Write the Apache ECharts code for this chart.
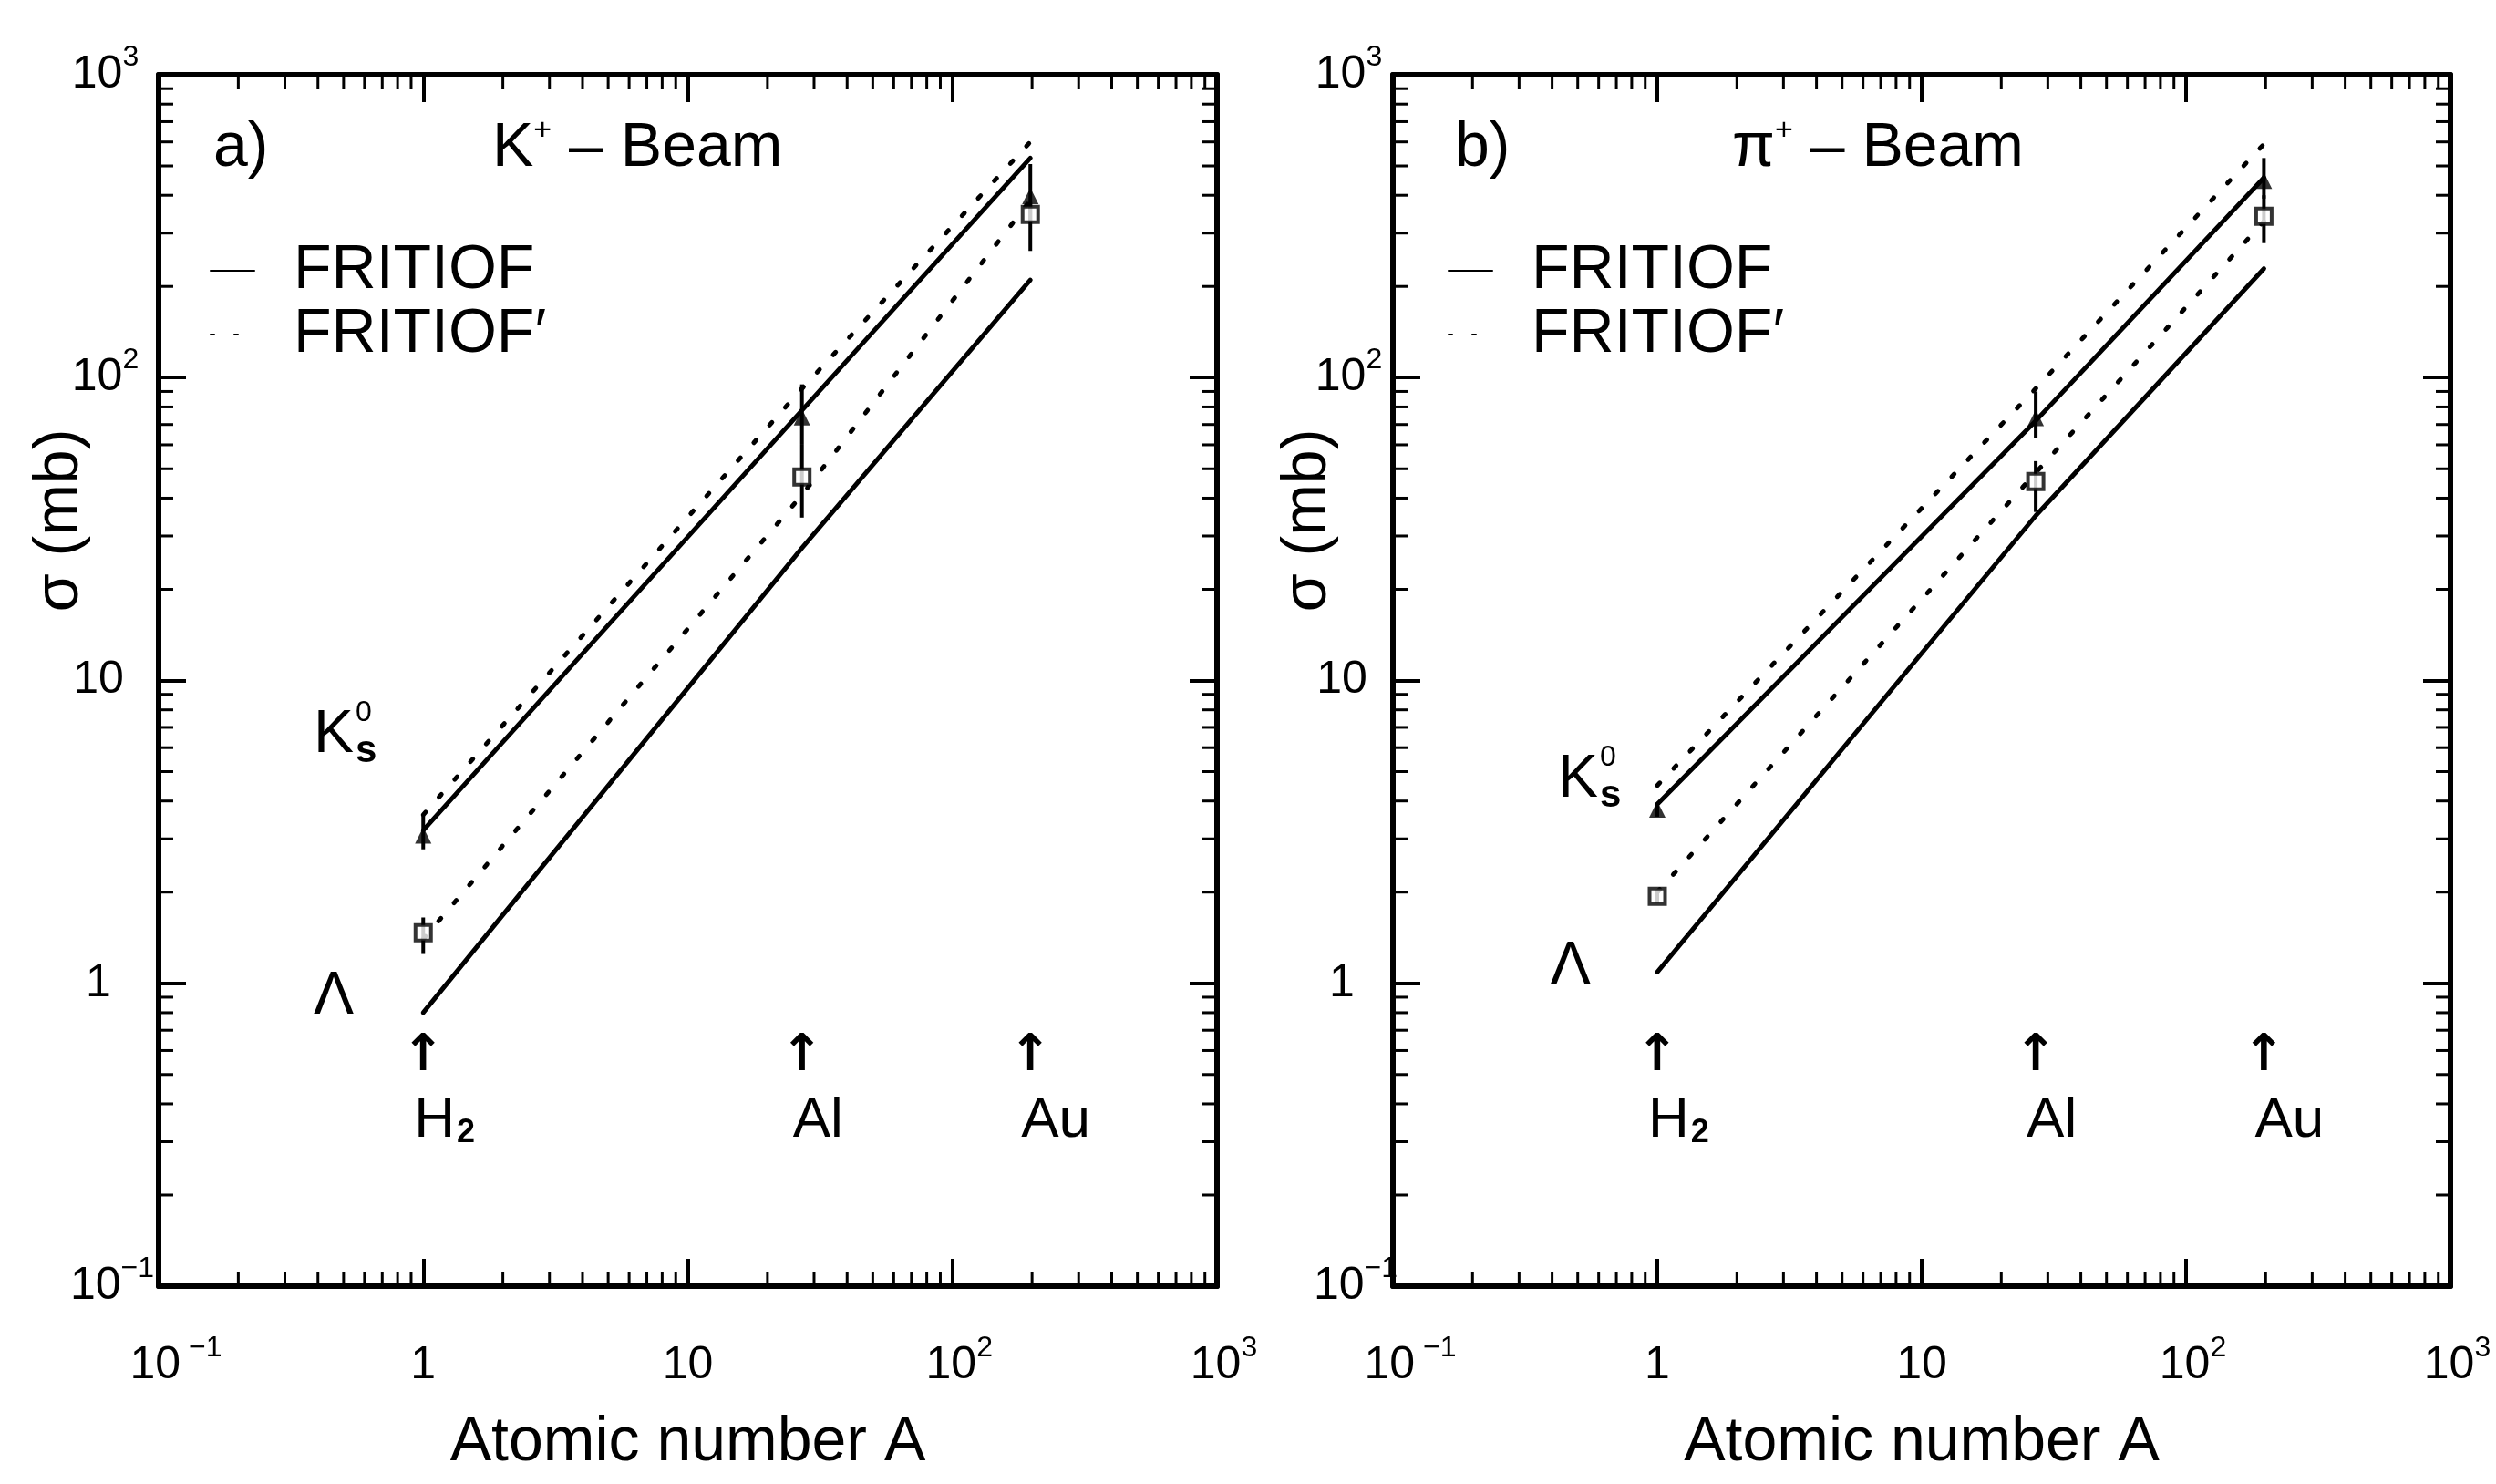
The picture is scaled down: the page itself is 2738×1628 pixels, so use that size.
<!DOCTYPE html>
<html>
<head>
<meta charset="utf-8">
<title>Cross sections vs atomic number</title>
<script src="https://cdn.jsdelivr.net/npm/echarts@6.0.0/dist/echarts.min.js"></script>
<style>
html,body{margin:0;padding:0;background:#ffffff;}
#chart{width:2738px;height:1628px;}
</style>
</head>
<body>
<div id="chart"></div>
<script>
// ===== Data =====
const targetA = [1, 27, 197];                 // H2, Al, Au
const targetNames = ['H{sub|2}', 'Al', 'Au'];

const majorTickValues = [0.1, 1, 10, 100, 1000];
const minorTickValues = [0.2,0.3,0.4,0.5,0.6,0.7,0.8,0.9,
                         2,3,4,5,6,7,8,9,
                         20,30,40,50,60,70,80,90,
                         200,300,400,500,600,700,800,900];

// Panel a) K+ beam : sigma (mb) at A = 1, 27, 197
const kK0sFritiof      = [3.2, 78, 531];
const kK0sFritiofPrime = [3.6, 92, 600];
const kLamFritiof      = [0.80, 27.4, 210];
const kLamFritiofPrime = [1.40, 41, 385];
const kK0sMeas = [3.08, 74, 398];
const kK0sLow  = [2.77, 60, 330];
const kK0sHigh = [3.62, 95, 507];
const kLamMeas = [1.47, 47, 346];
const kLamLow  = [1.25, 34.5, 262];
const kLamHigh = [1.65, 60, 380];

// Panel b) pi+ beam
const piK0sFritiof      = [3.9, 72, 457];
const piK0sFritiofPrime = [4.5, 92, 590];
const piLamFritiof      = [1.09, 35, 229];
const piLamFritiofPrime = [2.0, 48.5, 328];
const piK0sMeas = [3.75, 73.6, 447];
const piK0sLow  = [3.55, 63, 390];
const piK0sHigh = [3.95, 90, 531];
const piLamMeas = [1.94, 45.4, 341];
const piLamLow  = [1.84, 36, 278];
const piLamHigh = [2.04, 53, 400];

// annotation anchors (data coordinates)
const arrowSigma = 0.57;
const targetLabelSigma = 0.35;
const k0sLabelAt = [[0.385, 6.6], [0.421, 4.7]];
const lambdaLabelAt = [[0.459, 0.9], [0.47, 1.13]];

// ===== Styling / layout =====
const FONT = '"Liberation Sans", Arial, sans-serif';
const NARROW = '"Liberation Sans Narrow", "Liberation Sans", sans-serif';
const BLACK = '#000000';
const grids = [
  {left: 174, top: 82, width: 1161, height: 1329},
  {left: 1528, top: 82, width: 1160, height: 1329}
];
const yLabelMargin = [66, 56];

const tickRich = {
  n:   {fontSize: 50, fontFamily: NARROW, lineHeight: 70, color: BLACK},
  sup: {fontSize: 32, fontFamily: NARROW, lineHeight: 34, verticalAlign: 'top', color: BLACK},
  p1:  {width: 15, fontSize: 32, lineHeight: 34},
  pn:  {width: 30, fontSize: 32, lineHeight: 34},
  pn2: {width: 38, fontSize: 32, lineHeight: 34}
};
function expLabel(v, spaced) {
  const e = Math.round(Math.log10(v));
  if (e === 0) return '{n|1}';
  if (e === 1) return '{n|10}';
  const s = (e < 0 ? '\u2212' : '') + Math.abs(e);
  const pad = e < 0 ? (spaced ? 'pn2' : 'pn') : 'p1';
  return '{' + pad + '| }{n|10}{sup|' + (spaced && e < 0 ? ' ' : '') + s + '}';
}

function xAxisDef(g, pos) {
  const bottom = pos === 'bottom';
  return {
    type: 'log', logBase: 10, min: 0.1, max: 1000, gridIndex: g, position: pos,
    axisLine: {show: true, onZero: false, lineStyle: {color: BLACK, width: 6}},
    axisTick: {show: true, inside: true, length: 30, lineStyle: {color: BLACK, width: 4}},
    axisLabel: bottom ? {show: true, margin: 52, showMinLabel: true, showMaxLabel: true,
      formatter: v => expLabel(v, true), rich: tickRich} : {show: false},
    splitLine: {show: false}, minorTick: {show: false},
    name: bottom ? 'Atomic number A' : '', nameLocation: 'middle', nameGap: 138,
    nameTextStyle: {fontSize: 68, fontFamily: FONT, color: BLACK}
  };
}
function yAxisDef(g, pos) {
  const left = pos === 'left';
  return {
    type: 'log', logBase: 10, min: 0.1, max: 1000, gridIndex: g, position: pos,
    axisLine: {show: true, onZero: false, lineStyle: {color: BLACK, width: 6}},
    axisTick: {show: true, inside: true, length: 30, lineStyle: {color: BLACK, width: 4}},
    axisLabel: left ? {show: true, margin: yLabelMargin[g], align: 'center', showMinLabel: true, showMaxLabel: true,
      formatter: v => expLabel(v, false), rich: tickRich} : {show: false},
    splitLine: {show: false}, minorTick: {show: false}
  };
}

function minorTicksX(g) {
  return {
    type: 'custom', xAxisIndex: g * 2, yAxisIndex: g * 2, silent: true, clip: false, z: 5,
    data: minorTickValues.map(v => [v, 1]),
    renderItem(params, api) {
      const v = api.value(0);
      const b = api.coord([v, 0.1]), t = api.coord([v, 1000]);
      return {type: 'group', children: [
        {type: 'line', shape: {x1: b[0], y1: b[1], x2: b[0], y2: b[1] - 16}, style: {stroke: BLACK, lineWidth: 3}},
        {type: 'line', shape: {x1: t[0], y1: t[1], x2: t[0], y2: t[1] + 16}, style: {stroke: BLACK, lineWidth: 3}}
      ]};
    }
  };
}
function minorTicksY(g) {
  return {
    type: 'custom', xAxisIndex: g * 2, yAxisIndex: g * 2, silent: true, clip: false, z: 5,
    data: minorTickValues.map(v => [1, v]),
    renderItem(params, api) {
      const v = api.value(1);
      const l = api.coord([0.1, v]), r = api.coord([1000, v]);
      return {type: 'group', children: [
        {type: 'line', shape: {x1: l[0], y1: l[1], x2: l[0] + 16, y2: l[1]}, style: {stroke: BLACK, lineWidth: 3}},
        {type: 'line', shape: {x1: r[0], y1: r[1], x2: r[0] - 16, y2: r[1]}, style: {stroke: BLACK, lineWidth: 3}}
      ]};
    }
  };
}

function modelLine(g, name, values, dotted) {
  return {
    type: 'line', name: name, xAxisIndex: g * 2, yAxisIndex: g * 2, symbol: 'none', silent: true, z: 2,
    data: targetA.map((a, i) => [a, values[i]]),
    lineStyle: {color: BLACK, width: 5, type: dotted ? [4, 22] : 'solid', cap: 'round'},
    itemStyle: {color: BLACK}
  };
}
function errorBars(g, low, high) {
  return {
    type: 'custom', xAxisIndex: g * 2, yAxisIndex: g * 2, silent: true, z: 3,
    data: targetA.map((a, i) => [a, low[i], high[i]]),
    encode: {x: 0, y: [1, 2]},
    renderItem(params, api) {
      const p1 = api.coord([api.value(0), api.value(1)]);
      const p2 = api.coord([api.value(0), api.value(2)]);
      return {type: 'line', shape: {x1: p1[0], y1: p1[1], x2: p2[0], y2: p2[1]}, style: {stroke: BLACK, lineWidth: 4}};
    }
  };
}
function markers(g, values, kind) {
  const tri = kind === 'tri';
  return {
    type: 'scatter', xAxisIndex: g * 2, yAxisIndex: g * 2, silent: true, z: 4,
    data: targetA.map((a, i) => [a, values[i]]),
    symbol: tri ? 'triangle' : 'rect', symbolSize: tri ? 18 : 17,
    itemStyle: tri ? {color: BLACK} : {color: '#ffffff', borderColor: BLACK, borderWidth: 4}
  };
}
function textAnnotations(g) {
  const pts = [];
  targetA.forEach(a => pts.push([a, arrowSigma]));
  targetA.forEach(a => pts.push([a, targetLabelSigma]));
  pts.push(lambdaLabelAt[g]);
  pts.push(k0sLabelAt[g]);
  const n = targetA.length;
  return {
    type: 'custom', xAxisIndex: g * 2, yAxisIndex: g * 2, silent: true, clip: false, z: 6,
    data: pts,
    renderItem(params, api) {
      const i = params.dataIndex;
      const p = api.coord([api.value(0), api.value(1)]);
      if (i < n) {
        return {type: 'text', x: p[0], y: p[1], style: {text: '\u2191', fontSize: 56, fontFamily: '"DejaVu Sans", sans-serif',
          fontWeight: 'bold', fill: BLACK, align: 'center', verticalAlign: 'middle'}};
      }
      if (i < 2 * n) {
        return {type: 'text', x: p[0] - 10, y: p[1], style: {text: targetNames[i - n], fontSize: 62, fontFamily: FONT,
          fill: BLACK, align: 'left', verticalAlign: 'middle',
          rich: {sub: {fontSize: 36, fontFamily: FONT, fontWeight: 'bold', verticalAlign: 'bottom', lineHeight: 36, padding: [0, 0, 0, 2]}}}};
      }
      if (i === 2 * n) {
        return {type: 'text', x: p[0], y: p[1], style: {text: '\u039b', fontSize: 66, fontFamily: FONT,
          fill: BLACK, align: 'center', verticalAlign: 'middle'}};
      }
      return {type: 'group', children: [
        {type: 'text', x: p[0], y: p[1], style: {text: 'K', fontSize: 66, fontFamily: FONT, fill: BLACK, align: 'left', verticalAlign: 'middle'}},
        {type: 'text', x: p[0] + 46, y: p[1] - 24, style: {text: '0', fontSize: 32, fontFamily: FONT, fill: BLACK, align: 'left', verticalAlign: 'middle'}},
        {type: 'text', x: p[0] + 46, y: p[1] + 18, style: {text: 's', fontSize: 42, fontWeight: 'bold', fontFamily: FONT, fill: BLACK, align: 'left', verticalAlign: 'middle'}}
      ]};
    }
  };
}

function panelSeries(g, d) {
  return [
    minorTicksX(g), minorTicksY(g),
    modelLine(g, 'FRITIOF', d.k0sF, false),
    modelLine(g, 'FRITIOF\u2032', d.k0sFP, true),
    modelLine(g, 'FRITIOF', d.lamF, false),
    modelLine(g, 'FRITIOF\u2032', d.lamFP, true),
    errorBars(g, d.k0sLow, d.k0sHigh),
    errorBars(g, d.lamLow, d.lamHigh),
    markers(g, d.k0sMeas, 'tri'),
    markers(g, d.lamMeas, 'sq'),
    textAnnotations(g)
  ];
}

const series = [].concat(
  panelSeries(0, {k0sF: kK0sFritiof, k0sFP: kK0sFritiofPrime, lamF: kLamFritiof, lamFP: kLamFritiofPrime,
    k0sMeas: kK0sMeas, k0sLow: kK0sLow, k0sHigh: kK0sHigh, lamMeas: kLamMeas, lamLow: kLamLow, lamHigh: kLamHigh}),
  panelSeries(1, {k0sF: piK0sFritiof, k0sFP: piK0sFritiofPrime, lamF: piLamFritiof, lamFP: piLamFritiofPrime,
    k0sMeas: piK0sMeas, k0sLow: piK0sLow, k0sHigh: piK0sHigh, lamMeas: piLamMeas, lamLow: piLamLow, lamHigh: piLamHigh})
);

function legendDef(left) {
  return {
    data: ['FRITIOF', 'FRITIOF\u2032'], orient: 'vertical', left: left, top: 257,
    itemWidth: 48, itemHeight: 20, itemGap: 0, selectedMode: false,
    itemStyle: {opacity: 0, borderWidth: 0},
    textStyle: {fontSize: 68, fontFamily: NARROW, color: BLACK, lineHeight: 70, padding: [0, 0, 0, 38]}
  };
}

const titleRich = {
  sup: {fontSize: 34, fontFamily: FONT, verticalAlign: 'top', lineHeight: 34, fill: BLACK}
};
function titleText(x, text) {
  return {type: 'text', x: x, y: 163, style: {text: text, fontSize: 68, fontFamily: FONT, fill: BLACK,
    align: 'left', verticalAlign: 'middle', lineHeight: 72, rich: titleRich}};
}

const option = {
  backgroundColor: '#ffffff',
  animation: false,
  grid: grids.map(g => Object.assign({outerBoundsMode: 'none', containLabel: false}, g)),
  xAxis: [xAxisDef(0, 'bottom'), xAxisDef(0, 'top'), xAxisDef(1, 'bottom'), xAxisDef(1, 'top')],
  yAxis: [yAxisDef(0, 'left'), yAxisDef(0, 'right'), yAxisDef(1, 'left'), yAxisDef(1, 'right')],
  legend: [legendDef(225), legendDef(1583)],
  graphic: [
    titleText(234, 'a)'),
    titleText(540, 'K{sup|+} \u2013 Beam'),
    titleText(1596, 'b)'),
    titleText(1900, '\u03c0{sup|+} \u2013 Beam'),
    {type: 'text', x: 66, y: 571, rotation: Math.PI / 2,
      style: {text: '\u03c3 (mb)', fontSize: 68, fontFamily: FONT, fill: BLACK, align: 'center', verticalAlign: 'middle'}},
    {type: 'text', x: 1435, y: 571, rotation: Math.PI / 2,
      style: {text: '\u03c3 (mb)', fontSize: 68, fontFamily: FONT, fill: BLACK, align: 'center', verticalAlign: 'middle'}}
  ],
  series: series
};

const chart = echarts.init(document.getElementById('chart'), null, {renderer: 'canvas', width: 2738, height: 1628});
chart.setOption(option);
</script>
</body>
</html>
